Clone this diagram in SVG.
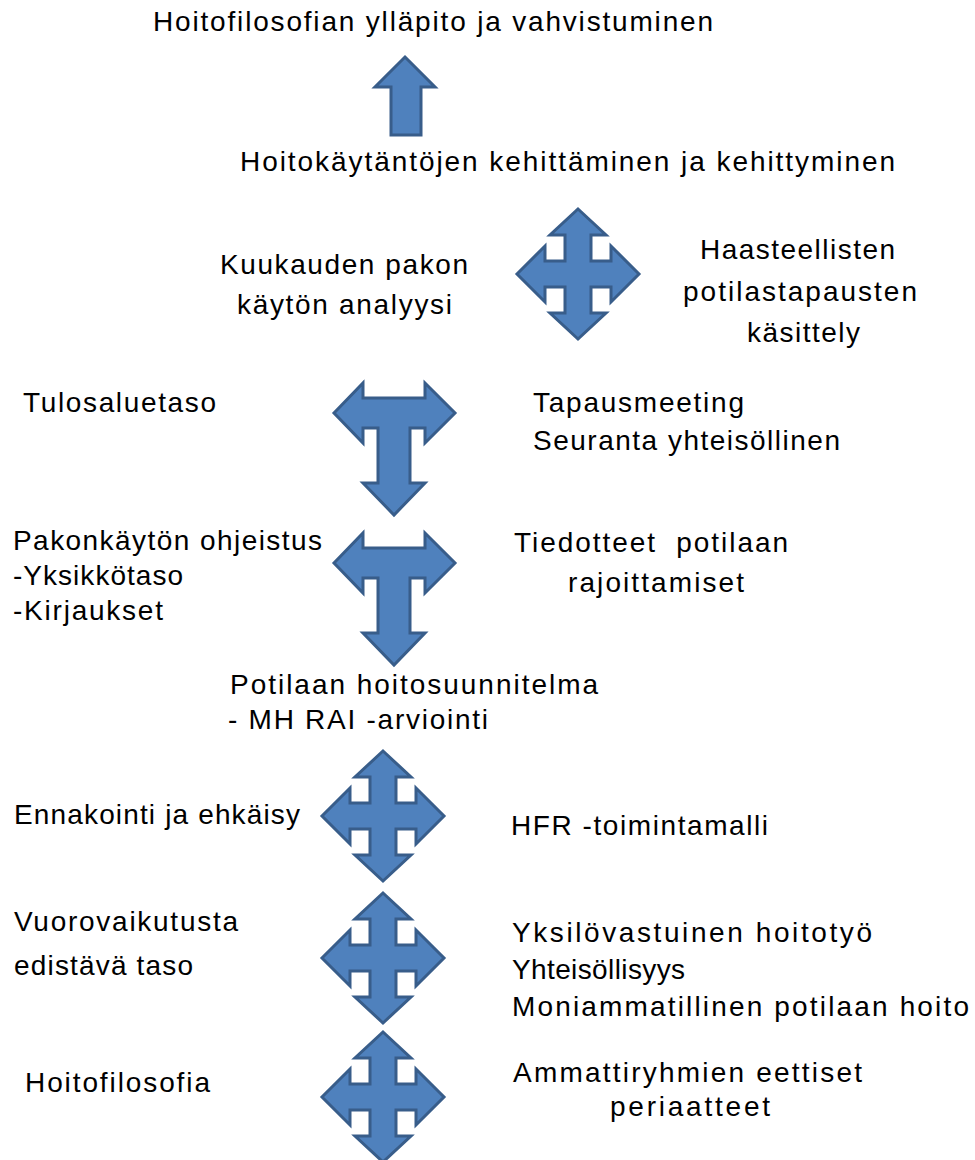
<svg xmlns="http://www.w3.org/2000/svg" xmlns:xlink="http://www.w3.org/1999/xlink" width="975" height="1160" viewBox="0 0 975 1160">
<style>
text{font-family:"Liberation Sans",Arial,sans-serif;font-size:28px;fill:#000}
.arrow{fill:#4F81BD;stroke:#385D8A;stroke-width:3;stroke-linejoin:miter}
</style>
<defs>
<path id="quad" d="M0,-65 L28,-39 L13,-39 L13,-13 L33,-13 L33,-28 L61,0 L33,28 L33,13 L13,13 L13,39 L28,39 L0,65 L-28,39 L-13,39 L-13,13 L-33,13 L-33,28 L-61,0 L-33,-28 L-33,-13 L-13,-13 L-13,-39 L-28,-39 Z"/>
<path id="tee" d="M-60,0 L-31,-30 L-31,-15 L31,-15 L31,-30 L61,0 L31,30 L31,15 L16,15 L16,70 L31,70 L0,102 L-31,70 L-16,70 L-16,15 L-31,15 L-31,30 Z"/>
</defs>
<g id="connectors">
<path class="arrow" d="M405,57 L435,87 L421,87 L421,135 L391,135 L391,87 L375,87 Z"/>
<use class="arrow" xlink:href="#quad" href="#quad" transform="translate(578,274)"/>
<use class="arrow" xlink:href="#tee" href="#tee" transform="translate(394,413)"/>
<use class="arrow" xlink:href="#tee" href="#tee" transform="translate(394,563)"/>
<use class="arrow" xlink:href="#quad" href="#quad" transform="translate(383,816)"/>
<use class="arrow" xlink:href="#quad" href="#quad" transform="translate(383,958)"/>
<use class="arrow" xlink:href="#quad" href="#quad" transform="translate(383,1097)"/>
</g>
<g id="n-top"><text x="153" y="31" textLength="560" lengthAdjust="spacing">Hoitofilosofian ylläpito ja vahvistuminen</text></g>
<g id="n-kaytannot"><text x="240" y="171" textLength="655" lengthAdjust="spacing">Hoitokäytäntöjen kehittäminen ja kehittyminen</text></g>
<g id="n-kuukausi">
<text x="220" y="274" textLength="248" lengthAdjust="spacing">Kuukauden pakon</text>
<text x="237" y="314" textLength="215" lengthAdjust="spacing">käytön analyysi</text>
</g>
<g id="n-haasteelliset">
<text x="700" y="259" textLength="195" lengthAdjust="spacing">Haasteellisten</text>
<text x="683" y="301" textLength="234" lengthAdjust="spacing">potilastapausten</text>
<text x="747" y="342" textLength="113" lengthAdjust="spacing">käsittely</text>
</g>
<g id="n-tulosalue"><text x="23" y="412" textLength="193" lengthAdjust="spacing">Tulosaluetaso</text></g>
<g id="n-tapaus">
<text x="533" y="412" textLength="211" lengthAdjust="spacing">Tapausmeeting</text>
<text x="533" y="450" textLength="307" lengthAdjust="spacing">Seuranta yhteisöllinen</text>
</g>
<g id="n-ohjeistus">
<text x="13" y="550" textLength="309" lengthAdjust="spacing">Pakonkäytön ohjeistus</text>
<text x="13" y="585" textLength="170" lengthAdjust="spacing">-Yksikkötaso</text>
<text x="13" y="620" textLength="150" lengthAdjust="spacing">-Kirjaukset</text>
</g>
<g id="n-tiedotteet">
<text x="514" y="552" textLength="274" lengthAdjust="spacing" xml:space="preserve">Tiedotteet  potilaan</text>
<text x="568" y="592" textLength="176" lengthAdjust="spacing">rajoittamiset</text>
</g>
<g id="n-hoitosuunnitelma">
<text x="230" y="694" textLength="368" lengthAdjust="spacing">Potilaan hoitosuunnitelma</text>
<text x="228" y="729" textLength="260" lengthAdjust="spacing">- MH RAI -arviointi</text>
</g>
<g id="n-ennakointi"><text x="14" y="824" textLength="286" lengthAdjust="spacing">Ennakointi ja ehkäisy</text></g>
<g id="n-hfr"><text x="511" y="835" textLength="257" lengthAdjust="spacing">HFR -toimintamalli</text></g>
<g id="n-vuorovaikutus">
<text x="14" y="931" textLength="224" lengthAdjust="spacing">Vuorovaikutusta</text>
<text x="14" y="975" textLength="179" lengthAdjust="spacing">edistävä taso</text>
</g>
<g id="n-yksilo">
<text x="512" y="942" textLength="360" lengthAdjust="spacing">Yksilövastuinen hoitotyö</text>
<text x="512" y="979" textLength="173" lengthAdjust="spacing">Yhteisöllisyys</text>
<text x="512" y="1016" textLength="457" lengthAdjust="spacing">Moniammatillinen potilaan hoito</text>
</g>
<g id="n-hoitofilosofia"><text x="25" y="1092" textLength="185" lengthAdjust="spacing">Hoitofilosofia</text></g>
<g id="n-ammatti">
<text x="513" y="1082" textLength="349" lengthAdjust="spacing">Ammattiryhmien eettiset</text>
<text x="610" y="1116" textLength="160" lengthAdjust="spacing">periaatteet</text>
</g>
</svg>
